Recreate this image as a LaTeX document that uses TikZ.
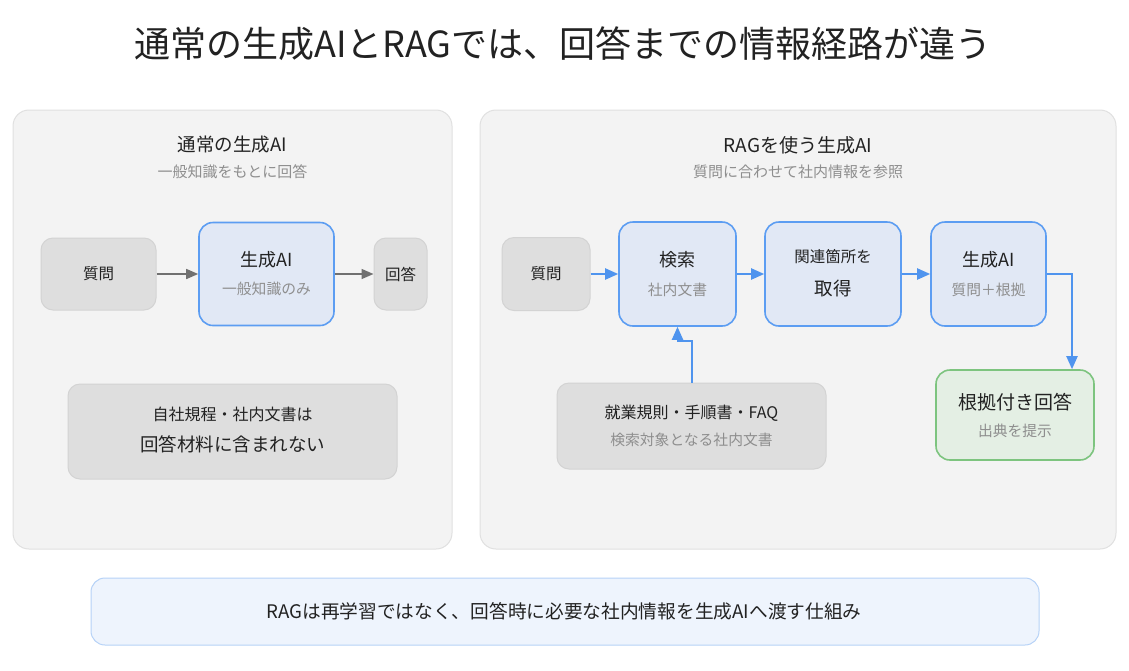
\documentclass[tikz,border=0pt]{standalone}
\usepackage{fontspec}
\setmainfont{Noto Sans CJK JP}
\usetikzlibrary{arrows.meta}

\definecolor{panelfill}{HTML}{F3F3F3}
\definecolor{panelline}{HTML}{E0E0E0}
\definecolor{grayfill}{HTML}{DEDEDE}
\definecolor{grayline}{HTML}{D3D3D3}
\definecolor{bluefill}{HTML}{E1E8F5}
\definecolor{blueline}{HTML}{5C9DF2}
\definecolor{greenfill}{HTML}{E4EFE4}
\definecolor{greenline}{HTML}{7DC47F}
\definecolor{notefill}{HTML}{EEF4FD}
\definecolor{noteline}{HTML}{B6D2F7}
\definecolor{darktext}{HTML}{222222}
\definecolor{subtext}{HTML}{8E8E8E}
\definecolor{grayarrowc}{HTML}{707070}
\definecolor{bluearrowc}{HTML}{4F94EE}

\newcommand{\fsz}[1]{\fontsize{#1}{#1}\selectfont}

\begin{document}
\begin{tikzpicture}[x=1pt,y=-1pt,
    panel/.style = {draw=panelline, fill=panelfill, line width=1pt, rounded corners=16pt, inner sep=0pt},
    graybox/.style = {draw=grayline, fill=grayfill, line width=1pt, rounded corners=12pt, inner sep=0pt},
    bluebox/.style = {draw=blueline, fill=bluefill, line width=1.6pt, rounded corners=14pt, inner sep=0pt},
    greenbox/.style = {draw=greenline, fill=greenfill, line width=1.6pt, rounded corners=14pt, inner sep=0pt},
    notebox/.style = {draw=noteline, fill=notefill, line width=1pt, rounded corners=14pt, inner sep=0pt},
    main/.style = {text=darktext, inner sep=0pt},
    sub/.style = {text=subtext, inner sep=0pt},
    grayarrow/.style = {draw=grayarrowc, line width=1.5pt, -{Triangle[length=12pt,width=10pt]}},
    bluearrow/.style = {draw=bluearrowc, line width=2pt, -{Triangle[length=13pt,width=11pt]}}
  ]
    \fill[white] (0,0) rectangle (1129,670);
    \useasboundingbox (0,0) rectangle (1129,670);

    % title
    \node[main] (title) at (563,44) {\fsz{36}通常の生成AIとRAGでは、回答までの情報経路が違う};

    % panels
    \node[panel, minimum width=439pt, minimum height=439pt] (left) at (232.5,329.5) {};
    \node[panel, minimum width=636pt, minimum height=439pt] (right) at (798,329.5) {};

    % left: plain generative AI
    \node[main] (lefttitle) at (232.5,145) {\fsz{18.5}通常の生成AI};
    \node[sub] (leftsub) at (232.5,172) {\fsz{15}一般知識をもとに回答};

    \node[graybox, minimum width=115pt, minimum height=72pt] (q1) at (98.5,274) {\fsz{15.5}\color{darktext}質問};
    \node[bluebox, minimum width=135pt, minimum height=103pt] (gen1) at (266.5,274) {};
    \node[main] at (266.5,260) {\fsz{18}生成AI};
    \node[sub] at (266.5,289) {\fsz{14.8}一般知識のみ};
    \node[graybox, minimum width=53pt, minimum height=72pt] (ans1) at (400.5,274) {\fsz{15.5}\color{darktext}回答};

    \draw[grayarrow] (q1) -- (gen1);
    \draw[grayarrow] (gen1) -- (ans1);

    \node[graybox, minimum width=329pt, minimum height=95pt] (note1) at (232.5,431.5) {};
    \node[main] at (232.5,414) {\fsz{16}自社規程・社内文書は};
    \node[main] at (232.5,444) {\fsz{18.5}回答材料に含まれない};

    % right: RAG
    \node[main] (righttitle) at (798,145) {\fsz{19}RAGを使う生成AI};
    \node[sub] (rightsub) at (798,172) {\fsz{15}質問に合わせて社内情報を参照};

    \node[graybox, minimum width=88pt, minimum height=73pt] (q2) at (546,274) {\fsz{15.5}\color{darktext}質問};

    \node[bluebox, minimum width=117pt, minimum height=104pt] (search) at (677.5,274) {};
    \node[main] at (677.5,260) {\fsz{18}検索};
    \node[sub] at (677.5,290) {\fsz{14.8}社内文書};

    \node[bluebox, minimum width=136pt, minimum height=104pt] (fetch) at (833,274) {};
    \node[main] at (833,257) {\fsz{15.5}関連箇所を};
    \node[main] at (833,288) {\fsz{18.5}取得};

    \node[bluebox, minimum width=115pt, minimum height=104pt] (gen2) at (988.5,274) {};
    \node[main] at (988.5,260) {\fsz{18}生成AI};
    \node[sub] at (988.5,290) {\fsz{14.8}質問＋根拠};

    \node[greenbox, minimum width=158pt, minimum height=90pt] (answer) at (1015,415) {};
    \node[main] at (1015,402) {\fsz{19}根拠付き回答};
    \node[sub] at (1015,431) {\fsz{14.8}出典を提示};

    \node[graybox, minimum width=269pt, minimum height=86pt] (docs) at (691.5,426) {};
    \node[main] at (691.5,413) {\fsz{16}就業規則・手順書・FAQ};
    \node[sub] at (691.5,440) {\fsz{14.8}検索対象となる社内文書};

    \draw[bluearrow] (q2) -- (search);
    \draw[bluearrow] (search) -- (fetch);
    \draw[bluearrow] (fetch) -- (gen2);
    \draw[bluearrow] (gen2.east) -| ([xshift=57pt]answer.north);
    \draw[bluearrow] (docs.north) |- ([yshift=-14pt]search.south) -- (search.south);

    % bottom message
    \node[notebox, minimum width=948pt, minimum height=67pt] (message) at (565,611.5) {};
    \node[main] at (564,611.5) {\fsz{18.7}RAGは再学習ではなく、回答時に必要な社内情報を生成AIへ渡す仕組み};
\end{tikzpicture}
\end{document}
